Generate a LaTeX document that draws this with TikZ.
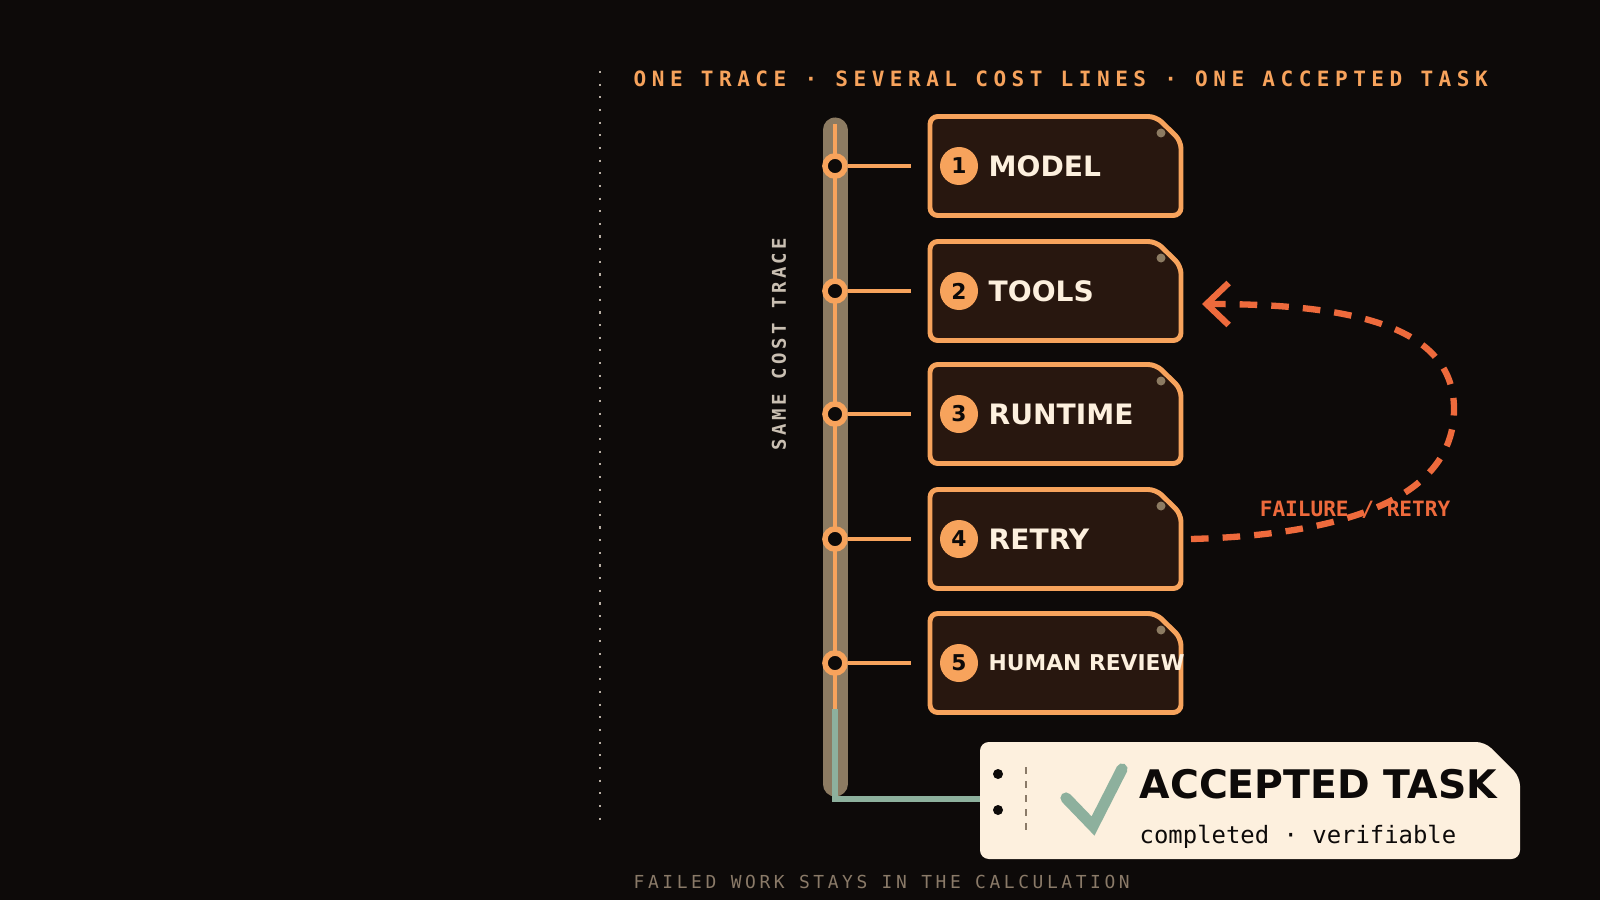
\documentclass[tikz,border=0pt]{standalone}
\usepackage{fontspec}
\setmainfont{DejaVu Sans}
\newfontfamily\monobold[LetterSpace=26]{DejaVu Sans Mono Bold}
\newfontfamily\monoside[LetterSpace=18]{DejaVu Sans Mono Bold}
\newfontfamily\monofoot[LetterSpace=20]{DejaVu Sans Mono}
\newfontfamily\monoplain{DejaVu Sans Mono}
\newfontfamily\monofail{DejaVu Sans Mono Bold}
\usetikzlibrary{arrows.meta,positioning}
\definecolor{bgdark}{HTML}{0D0A09}
\definecolor{amber}{HTML}{F7A35C}
\definecolor{railgray}{HTML}{8C7B62}
\definecolor{boxfill}{HTML}{28170F}
\definecolor{sage}{HTML}{8DB09D}
\definecolor{retryred}{HTML}{EE6A3C}
\definecolor{paper}{HTML}{FDF0DE}
\definecolor{dimtext}{HTML}{8A7A68}
\definecolor{sidetext}{HTML}{C9BFB2}
\tikzset{
  stepbox/.style={draw=amber,fill=boxfill,line width=1.4pt,rounded corners=2.2pt},
  knot/.style={circle,draw=amber,fill=bgdark,line width=1.6pt,minimum size=0.2cm,inner sep=0pt},
  badge/.style={circle,fill=amber,minimum size=0.38cm,inner sep=0pt,font=\bfseries\fontsize{6.2}{7}\selectfont,text=bgdark},
  steplabel/.style={anchor=west,text=paper,font=\bfseries\fontsize{8}{9}\selectfont,inner sep=0pt},
  stub/.style={amber,line width=1.4pt}
}
\begin{document}
\begin{tikzpicture}
  \fill[bgdark] (0,0) rectangle (16,9);
  \useasboundingbox (0,0) rectangle (16,9);
  % title and guide line
  \node[anchor=base west,inner sep=0pt,text=amber,font=\monobold\fontsize{6}{7}\selectfont] (title) at (6.33,8.13) {ONE TRACE · SEVERAL COST LINES · ONE ACCEPTED TASK};
  \draw[dimtext!60,line width=0.4pt,dash pattern=on 0.6pt off 3pt] (6.0,8.29) -- (6.0,0.74);
  % rail
  \draw[railgray,line width=0.25cm,line cap=round] (8.35,7.7) -- (8.35,1.16);
  \draw[amber,line width=1.4pt] (8.35,7.76) -- (8.35,1.91);
  \coordinate (gtop) at (8.35,1.91);
  \coordinate (gcorner) at (8.35,1.01);
  \node[rotate=90,text=sidetext,font=\monoside\fontsize{5.4}{6}\selectfont] (side) at (7.79,5.56) {SAME COST TRACE};
  % steps
  \foreach \i/\y/\txt/\fs in {1/7.34/MODEL/8,2/6.09/TOOLS/8,3/4.86/RUNTIME/8,4/3.61/RETRY/8,5/2.37/HUMAN REVIEW/6.2}{
    \draw[stepbox] (9.30,\y-0.495) -- (11.81,\y-0.495) -- (11.81,\y+0.25) -- (11.56,\y+0.495) -- (9.30,\y+0.495) -- cycle;
    \fill[railgray] (11.61,\y+0.33) circle (0.045);
    \node[knot] (k\i) at (8.35,\y) {};
    \coordinate (e\i) at (9.11,\y);
    \draw[stub] (k\i) -- (e\i);
    \node[badge] (b\i) at (9.59,\y) {\i};
    \node[steplabel,font=\bfseries\fontsize{\fs}{9}\selectfont] (l\i) at (9.88,\y) {\txt};
  }
  % accepted task
  \draw[sage,line width=1.6pt] (gtop) -- (gcorner) -- (9.8,1.01);
  \fill[paper,rounded corners=2.5pt] (9.80,0.41) -- (15.20,0.41) -- (15.20,1.23) -- (14.85,1.58) -- (9.80,1.58) -- cycle;
  \fill[bgdark] (9.98,1.26) circle (0.05) (9.98,0.90) circle (0.05);
  \draw[dimtext,line width=0.6pt,dash pattern=on 2pt off 2pt] (10.26,1.33) -- (10.26,0.63);
  \draw[sage,line width=3.2pt,line cap=round] (10.66,1.02) -- (10.93,0.74) -- (11.22,1.31);
  \node[anchor=base west,inner sep=0pt,font=\bfseries\fontsize{11.2}{12}\selectfont,text=bgdark] (acc) at (11.39,1.02) {ACCEPTED TASK};
  \node[anchor=base west,inner sep=0pt,font=\monoplain\fontsize{6.8}{8}\selectfont,text=bgdark] (accsub) at (11.39,0.57) {completed · verifiable};
  % retry loop
  \coordinate (rs) at (11.91,3.61);
  \coordinate (re) at (12.02,5.96);
  \draw[retryred,line width=1.8pt,dash pattern=on 5pt off 4pt,-{Straight Barb[length=0.22cm,width=0.42cm,line width=1.8pt]}]
    (rs) .. controls (13.4,3.65) and (14.55,4.0) .. (14.54,4.92) .. controls (14.53,5.75) and (13.5,5.96) .. (re);
  \node[anchor=base,inner sep=0pt,text=retryred,font=\monofail\fontsize{6}{7}\selectfont] (fail) at (13.55,3.84) {FAILURE / RETRY};
  % footer
  \node[anchor=base west,inner sep=0pt,text=dimtext,font=\monofoot\fontsize{5.1}{6}\selectfont] (foot) at (6.33,0.12) {FAILED WORK STAYS IN THE CALCULATION};
\end{tikzpicture}
\end{document}
